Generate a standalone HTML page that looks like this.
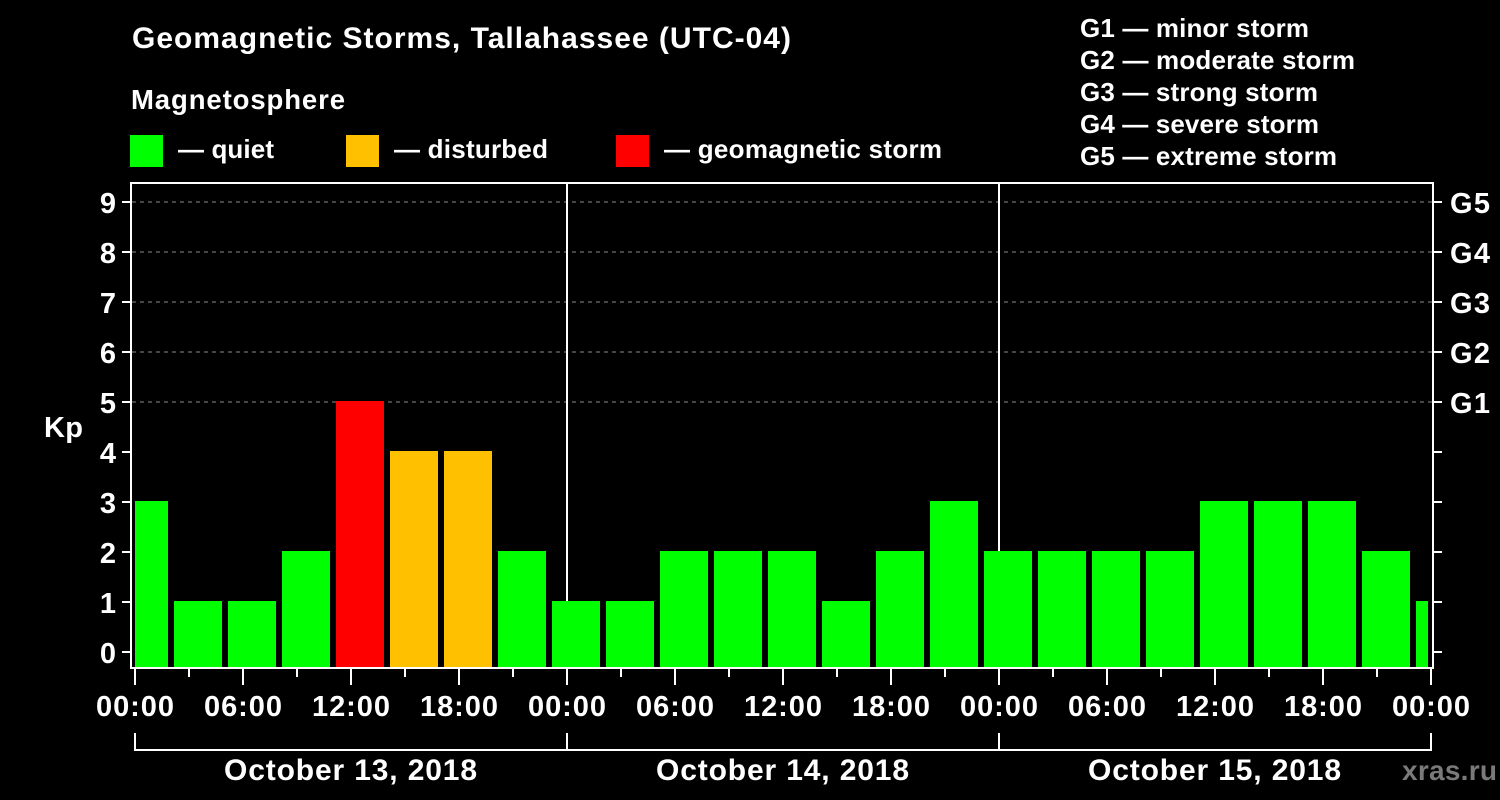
<!DOCTYPE html>
<html>
<head>
<meta charset="utf-8">
<style>
html,body{margin:0;padding:0;background:#000;}
svg{display:block;}
text{font-family:"Liberation Sans",Arial,sans-serif;font-weight:bold;fill:#fff;}
</style>
</head>
<body>
<svg width="1500" height="800" viewBox="0 0 1500 800" xmlns="http://www.w3.org/2000/svg">
<rect x="0" y="0" width="1500" height="800" fill="#000"/>

<!-- Title & legend -->
<text x="132" y="48" font-size="30" textLength="659" lengthAdjust="spacing">Geomagnetic Storms, Tallahassee (UTC-04)</text>
<text x="131" y="109" font-size="27.5" textLength="214" lengthAdjust="spacing">Magnetosphere</text>

<rect x="130" y="135" width="33" height="32" fill="#00ff00"/>
<text x="178" y="158" font-size="26" textLength="96" lengthAdjust="spacing">— quiet</text>
<rect x="346" y="135" width="33" height="32" fill="#ffc000"/>
<text x="394" y="158" font-size="26" textLength="154" lengthAdjust="spacing">— disturbed</text>
<rect x="616" y="135" width="33" height="32" fill="#ff0000"/>
<text x="664" y="158" font-size="26" textLength="278" lengthAdjust="spacing">— geomagnetic storm</text>

<text x="1080" y="37" font-size="26" textLength="229" lengthAdjust="spacing">G1 — minor storm</text>
<text x="1080" y="69" font-size="26" textLength="275" lengthAdjust="spacing">G2 — moderate storm</text>
<text x="1080" y="101" font-size="26" textLength="238" lengthAdjust="spacing">G3 — strong storm</text>
<text x="1080" y="133" font-size="26" textLength="239" lengthAdjust="spacing">G4 — severe storm</text>
<text x="1080" y="165" font-size="26" textLength="257" lengthAdjust="spacing">G5 — extreme storm</text>

<!-- Grid dashed lines (5..9) -->
<g stroke="#8a8a8a" stroke-width="1" stroke-dasharray="4,4">
<line x1="132" y1="202" x2="1432" y2="202"/>
<line x1="132" y1="252" x2="1432" y2="252"/>
<line x1="132" y1="302" x2="1432" y2="302"/>
<line x1="132" y1="352" x2="1432" y2="352"/>
<line x1="132" y1="402" x2="1432" y2="402"/>
</g>

<!-- Day separators -->
<g stroke="#fff" stroke-width="2">
<line x1="567" y1="183" x2="567" y2="668"/>
<line x1="999" y1="183" x2="999" y2="668"/>
</g>

<!-- Bars -->
<g>
<rect x="135" y="501" width="33" height="167" fill="#00ff00"/>
<rect x="174" y="601" width="48" height="67" fill="#00ff00"/>
<rect x="228" y="601" width="48" height="67" fill="#00ff00"/>
<rect x="282" y="551" width="48" height="117" fill="#00ff00"/>
<rect x="336" y="401" width="48" height="267" fill="#ff0000"/>
<rect x="390" y="451" width="48" height="217" fill="#ffc000"/>
<rect x="444" y="451" width="48" height="217" fill="#ffc000"/>
<rect x="498" y="551" width="48" height="117" fill="#00ff00"/>
<rect x="552" y="601" width="48" height="67" fill="#00ff00"/>
<rect x="606" y="601" width="48" height="67" fill="#00ff00"/>
<rect x="660" y="551" width="48" height="117" fill="#00ff00"/>
<rect x="714" y="551" width="48" height="117" fill="#00ff00"/>
<rect x="768" y="551" width="48" height="117" fill="#00ff00"/>
<rect x="822" y="601" width="48" height="67" fill="#00ff00"/>
<rect x="876" y="551" width="48" height="117" fill="#00ff00"/>
<rect x="930" y="501" width="48" height="167" fill="#00ff00"/>
<rect x="984" y="551" width="48" height="117" fill="#00ff00"/>
<rect x="1038" y="551" width="48" height="117" fill="#00ff00"/>
<rect x="1092" y="551" width="48" height="117" fill="#00ff00"/>
<rect x="1146" y="551" width="48" height="117" fill="#00ff00"/>
<rect x="1200" y="501" width="48" height="167" fill="#00ff00"/>
<rect x="1254" y="501" width="48" height="167" fill="#00ff00"/>
<rect x="1308" y="501" width="48" height="167" fill="#00ff00"/>
<rect x="1362" y="551" width="48" height="117" fill="#00ff00"/>
<rect x="1416" y="601" width="12" height="67" fill="#00ff00"/>
</g>

<!-- Frame -->
<rect x="131" y="183" width="1302" height="485" fill="none" stroke="#fff" stroke-width="2"/>

<!-- Y ticks -->
<g stroke="#fff" stroke-width="2">
<line x1="122" y1="652" x2="131" y2="652"/><line x1="1433" y1="652" x2="1442" y2="652"/>
<line x1="122" y1="602" x2="131" y2="602"/><line x1="1433" y1="602" x2="1442" y2="602"/>
<line x1="122" y1="552" x2="131" y2="552"/><line x1="1433" y1="552" x2="1442" y2="552"/>
<line x1="122" y1="502" x2="131" y2="502"/><line x1="1433" y1="502" x2="1442" y2="502"/>
<line x1="122" y1="452" x2="131" y2="452"/><line x1="1433" y1="452" x2="1442" y2="452"/>
<line x1="122" y1="402" x2="131" y2="402"/><line x1="1433" y1="402" x2="1442" y2="402"/>
<line x1="122" y1="352" x2="131" y2="352"/><line x1="1433" y1="352" x2="1442" y2="352"/>
<line x1="122" y1="302" x2="131" y2="302"/><line x1="1433" y1="302" x2="1442" y2="302"/>
<line x1="122" y1="252" x2="131" y2="252"/><line x1="1433" y1="252" x2="1442" y2="252"/>
<line x1="122" y1="202" x2="131" y2="202"/><line x1="1433" y1="202" x2="1442" y2="202"/>
</g>

<!-- Y labels -->
<g font-size="29" text-anchor="end">
<text x="116" y="663">0</text>
<text x="116" y="613">1</text>
<text x="116" y="563">2</text>
<text x="116" y="513">3</text>
<text x="116" y="463">4</text>
<text x="116" y="413">5</text>
<text x="116" y="363">6</text>
<text x="116" y="313">7</text>
<text x="116" y="263">8</text>
<text x="116" y="213">9</text>
</g>
<text x="44" y="437" font-size="29" textLength="39" lengthAdjust="spacing">Kp</text>

<g font-size="29">
<text x="1450" y="213" textLength="40" lengthAdjust="spacing">G5</text>
<text x="1450" y="263" textLength="40" lengthAdjust="spacing">G4</text>
<text x="1450" y="313" textLength="40" lengthAdjust="spacing">G3</text>
<text x="1450" y="363" textLength="40" lengthAdjust="spacing">G2</text>
<text x="1450" y="413" textLength="40" lengthAdjust="spacing">G1</text>
</g>

<!-- X ticks -->
<g stroke="#fff" stroke-width="2">
<line x1="135" y1="669" x2="135" y2="685"/>
<line x1="243" y1="669" x2="243" y2="685"/>
<line x1="351" y1="669" x2="351" y2="685"/>
<line x1="459" y1="669" x2="459" y2="685"/>
<line x1="567" y1="669" x2="567" y2="685"/>
<line x1="675" y1="669" x2="675" y2="685"/>
<line x1="783" y1="669" x2="783" y2="685"/>
<line x1="891" y1="669" x2="891" y2="685"/>
<line x1="999" y1="669" x2="999" y2="685"/>
<line x1="1107" y1="669" x2="1107" y2="685"/>
<line x1="1215" y1="669" x2="1215" y2="685"/>
<line x1="1323" y1="669" x2="1323" y2="685"/>
<line x1="1431" y1="669" x2="1431" y2="685"/>
<line x1="189" y1="669" x2="189" y2="677"/>
<line x1="297" y1="669" x2="297" y2="677"/>
<line x1="405" y1="669" x2="405" y2="677"/>
<line x1="513" y1="669" x2="513" y2="677"/>
<line x1="621" y1="669" x2="621" y2="677"/>
<line x1="729" y1="669" x2="729" y2="677"/>
<line x1="837" y1="669" x2="837" y2="677"/>
<line x1="945" y1="669" x2="945" y2="677"/>
<line x1="1053" y1="669" x2="1053" y2="677"/>
<line x1="1161" y1="669" x2="1161" y2="677"/>
<line x1="1269" y1="669" x2="1269" y2="677"/>
<line x1="1377" y1="669" x2="1377" y2="677"/>
</g>

<!-- X labels -->
<g font-size="29">
<text x="96" y="716" textLength="78" lengthAdjust="spacing">00:00</text>
<text x="204" y="716" textLength="78" lengthAdjust="spacing">06:00</text>
<text x="312" y="716" textLength="78" lengthAdjust="spacing">12:00</text>
<text x="420" y="716" textLength="78" lengthAdjust="spacing">18:00</text>
<text x="528" y="716" textLength="78" lengthAdjust="spacing">00:00</text>
<text x="636" y="716" textLength="78" lengthAdjust="spacing">06:00</text>
<text x="744" y="716" textLength="78" lengthAdjust="spacing">12:00</text>
<text x="852" y="716" textLength="78" lengthAdjust="spacing">18:00</text>
<text x="960" y="716" textLength="78" lengthAdjust="spacing">00:00</text>
<text x="1068" y="716" textLength="78" lengthAdjust="spacing">06:00</text>
<text x="1176" y="716" textLength="78" lengthAdjust="spacing">12:00</text>
<text x="1284" y="716" textLength="78" lengthAdjust="spacing">18:00</text>
<text x="1392" y="716" textLength="78" lengthAdjust="spacing">00:00</text>
</g>

<!-- Date brackets -->
<g stroke="#fff" stroke-width="2" fill="none">
<line x1="134" y1="750" x2="1432" y2="750"/>
<line x1="135" y1="733" x2="135" y2="751"/>
<line x1="567" y1="733" x2="567" y2="751"/>
<line x1="999" y1="733" x2="999" y2="751"/>
<line x1="1431" y1="733" x2="1431" y2="751"/>
</g>

<g font-size="30">
<text x="224" y="780" textLength="253" lengthAdjust="spacing">October 13, 2018</text>
<text x="656" y="780" textLength="253" lengthAdjust="spacing">October 14, 2018</text>
<text x="1088" y="780" textLength="253" lengthAdjust="spacing">October 15, 2018</text>
</g>

<text x="1402" y="780" font-size="28" textLength="95" lengthAdjust="spacing" style="fill:#7a7a7a">xras.ru</text>
</svg>
</body>
</html>
